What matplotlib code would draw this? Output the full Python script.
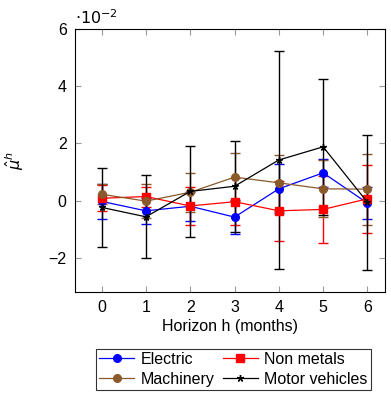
import matplotlib

matplotlib.use("Agg")
import matplotlib.pyplot as plt
from matplotlib.lines import Line2D

plt.rcParams["font.family"] = ["Liberation Sans", "DejaVu Sans"]
plt.rcParams["mathtext.fontset"] = "dejavusans"

# values in units of 1e-2
horizons = [0, 1, 2, 3, 4, 5, 6]
electric = [-0.03, -0.36, -0.2, -0.58, 0.41, 0.97, -0.09]
electric_err = [0.6, 0.45, 0.5, 0.6, 0.86, 0.5, 0.57]
non_metals = [0.08, 0.14, -0.19, -0.04, -0.36, -0.31, 0.06]
non_metals_err = [0.46, 0.35, 0.68, 0.83, 1.06, 1.17, 1.18]
machinery = [0.22, -0.02, 0.29, 0.82, 0.62, 0.41, 0.4]
machinery_err = [0.35, 0.6, 0.68, 0.83, 0.98, 1.0, 1.24]
motor = [-0.24, -0.57, 0.32, 0.5, 1.42, 1.88, -0.06]
motor_err = [1.38, 1.45, 1.6, 1.6, 3.8, 2.38, 2.36]

brown = "#8b5a2b"
fs = 11.5

fig = plt.figure(figsize=(3.91, 3.94), dpi=100)
ax = fig.add_axes([0.192, 0.259, 0.793, 0.667])

series = [
    ("Electric", electric, electric_err, "blue", "o", 5.5),
    ("Non metals", non_metals, non_metals_err, "red", "s", 5.5),
    ("Machinery", machinery, machinery_err, brown, "o", 5.5),
    ("Motor vehicles", motor, motor_err, "black", (5, 2, 0), 5),
]
handles = {}
for name, vals, err, col, mk, ms in series:
    ax.errorbar(horizons, vals, yerr=err, color=col, marker=mk, markersize=ms,
                linewidth=0.9, elinewidth=1.0, capsize=3.5, capthick=1.0)
    handles[name] = Line2D([], [], color=col, marker=mk, markersize=ms, linewidth=0.9)

ax.set_xlim(-0.6, 6.4)
ax.set_ylim(-3.2, 6)
ax.set_xticks(horizons)
ax.set_yticks([-2, 0, 2, 4, 6])
ax.set_yticklabels(["\u22122", "0", "2", "4", "6"])
ax.tick_params(direction="in", color="#999999", labelsize=fs, top=True, right=True,
               length=4, pad=6)
ax.set_xlabel("Horizon h (months)", fontsize=fs, labelpad=3)
ax.set_ylabel(r"$\hat{\mu}^h$", fontsize=fs, labelpad=16)
ax.text(0.0, 1.01, r"$\cdot10^{-2}$", transform=ax.transAxes, fontsize=fs,
        ha="left", va="bottom")

order = ["Electric", "Machinery", "Non metals", "Motor vehicles"]
leg = fig.legend([handles[n] for n in order], order, loc="center",
                 bbox_to_anchor=(0.597, 0.063), ncol=2, fontsize=fs,
                 frameon=True, fancybox=False, edgecolor="black",
                 handlelength=2.2, handletextpad=0.4, columnspacing=0.5,
                 borderpad=0.2, labelspacing=0.3, borderaxespad=0)
leg.get_frame().set_linewidth(0.8)

fig.savefig("out.png", dpi=100)
